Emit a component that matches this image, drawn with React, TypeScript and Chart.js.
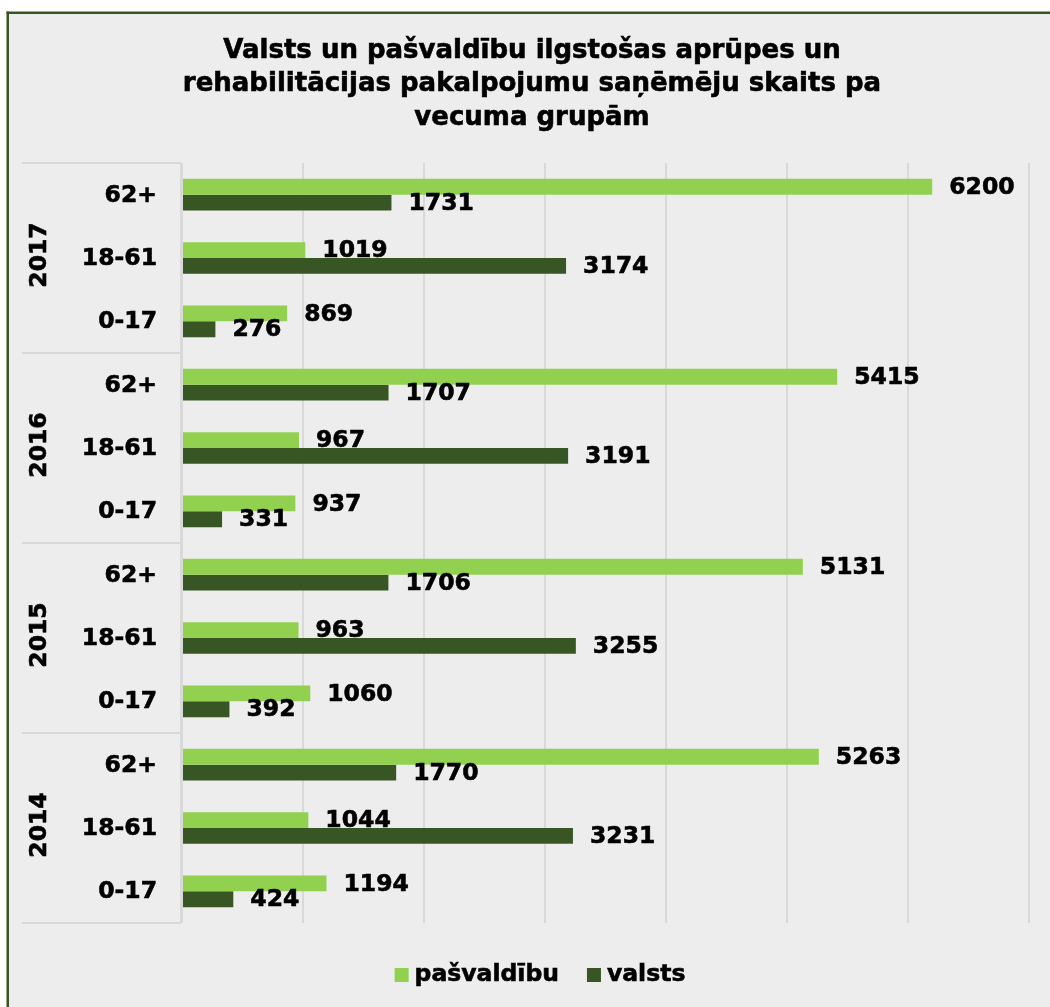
import React, { useEffect, useRef } from "react";
import { Chart, registerables } from "chart.js";

Chart.register(...registerables);

const years = ["2017", "2016", "2015", "2014"];
const ageGroups = ["62+", "18-61", "0-17"];
const pasvaldibu = [6200, 1019, 869, 5415, 967, 937, 5131, 963, 1060, 5263, 1044, 1194];
const valsts = [1731, 3174, 276, 1707, 3191, 331, 1706, 3255, 392, 1770, 3231, 424];
const seriesNames = ["pašvaldību", "valsts"];
const titleLines = [
  "Valsts un pašvaldību ilgstošas aprūpes un",
  "rehabilitācijas pakalpojumu saņēmēju skaits pa",
  "vecuma grupām",
];

const FONT = "'DejaVu Sans', Verdana, sans-serif";
const LIGHT = "#92D050";
const DARK = "#375623";
const GRID = "#D9D9D9";
const BIG = `bold 23.5px ${FONT}`;

const categories: string[] = [];
years.forEach(() => ageGroups.forEach((a) => categories.push(a)));

function boldText(ctx: CanvasRenderingContext2D, s: string, x: number, y: number) {
  ctx.fillText(s, x, y);
  ctx.strokeText(s, x, y);
}

const backgroundPlugin = {
  id: "bgBorder",
  beforeDraw(chart: any) {
    const { ctx, width, height } = chart;
    ctx.save();
    ctx.fillStyle = "#FFFFFF";
    ctx.fillRect(0, 0, width, height);
    ctx.fillStyle = "#EDEDED";
    ctx.fillRect(8, 13, width - 8, height - 13);
    ctx.fillStyle = DARK;
    ctx.fillRect(6.5, 11.5, 2.5, height - 11.5);
    ctx.fillRect(6.5, 11.5, width - 6.5, 2.5);
    ctx.restore();
  },
};

const textPlugin = {
  id: "texts",
  afterDraw(chart: any) {
    const { ctx, chartArea } = chart;
    const y = chart.scales.y;
    const n = ageGroups.length;
    ctx.save();
    // category box lines
    ctx.strokeStyle = GRID;
    ctx.lineWidth = 2;
    const left = 22;
    const right = chartArea.left - 1;
    const lines: number[] = [chartArea.top];
    for (let g = 1; g < years.length; g++) {
      const a = y.getPixelForValue(g * n - 1);
      const b = y.getPixelForValue(g * n);
      lines.push((a + b) / 2);
    }
    lines.push(chartArea.bottom);
    ctx.beginPath();
    lines.forEach((ly) => {
      ctx.moveTo(left, ly);
      ctx.lineTo(right, ly);
    });
    ctx.moveTo(right, chartArea.top);
    ctx.lineTo(right, chartArea.bottom);
    ctx.stroke();

    ctx.fillStyle = "#000";
    ctx.strokeStyle = "#000";
    ctx.lineWidth = 0.6;

    // title
    ctx.font = `bold 26px ${FONT}`;
    ctx.textAlign = "center";
    ctx.textBaseline = "middle";
    titleLines.forEach((t, i) => boldText(ctx, t, 532, 51 + i * 33.5));

    // age-group labels
    ctx.font = BIG;
    ctx.textAlign = "right";
    categories.forEach((c, i) => boldText(ctx, c, 157, y.getPixelForValue(i) + 1));

    // year labels
    ctx.textAlign = "center";
    years.forEach((yr, g) => {
      const cy = y.getPixelForValue(g * n + 1) - 3;
      ctx.save();
      ctx.translate(40, cy);
      ctx.rotate(-Math.PI / 2);
      boldText(ctx, yr, 0, 0);
      ctx.restore();
    });

    // legend
    const ly = 975;
    ctx.textAlign = "left";
    ctx.font = BIG;
    const w1 = ctx.measureText(seriesNames[0]).width;
    const w2 = ctx.measureText(seriesNames[1]).width;
    const total = 14 + 6 + w1 + 28 + 14 + 6 + w2;
    let x = 540 - total / 2;
    const colors = [LIGHT, DARK];
    [w1, w2].forEach((w, i) => {
      ctx.fillStyle = colors[i];
      ctx.fillRect(x, ly - 7, 14, 14);
      ctx.fillStyle = "#000";
      boldText(ctx, seriesNames[i], x + 20, ly);
      x += 20 + w + 28;
    });

    // value labels
    ctx.font = BIG;
    ctx.textAlign = "left";
    chart.data.datasets.forEach((ds: any, di: number) => {
      const meta = chart.getDatasetMeta(di);
      meta.data.forEach((bar: any, i: number) => {
        boldText(ctx, String(ds.data[i]), bar.x + 17, bar.y + 1);
      });
    });
    ctx.restore();
  },
};

export default function App() {
  const ref = useRef<HTMLCanvasElement>(null);
  useEffect(() => {
    if (!ref.current) return;
    const chart = new Chart(ref.current, {
      type: "bar",
      data: {
        labels: categories,
        datasets: [
          {
            label: seriesNames[0],
            data: pasvaldibu,
            backgroundColor: LIGHT,
            categoryPercentage: 0.5,
            barPercentage: 1.0,
          },
          {
            label: seriesNames[1],
            data: valsts,
            backgroundColor: DARK,
            categoryPercentage: 0.5,
            barPercentage: 1.0,
          },
        ],
      },
      options: {
        indexAxis: "y",
        animation: false,
        responsive: false,
        layout: { padding: { left: 0, right: 21, top: 163, bottom: 84 } },
        plugins: {
          title: { display: false },
          legend: { display: false },
          tooltip: { enabled: false },
        },
        scales: {
          x: {
            min: 0,
            max: 7000,
            ticks: { display: false, stepSize: 1000 },
            grid: { color: GRID, lineWidth: 2, drawTicks: false },
            border: { display: false },
            afterFit(scale: any) {
              scale.height = 0;
            },
          },
          y: {
            ticks: { display: false },
            grid: { display: false, drawTicks: false },
            border: { display: false },
            afterFit(scale: any) {
              scale.width = 182;
            },
          },
        },
      },
      plugins: [backgroundPlugin, textPlugin],
    });
    return () => chart.destroy();
  }, []);
  return (
    <div style={{ position: "fixed", left: 0, top: 0, width: 1050, height: 1007 }}>
      <canvas ref={ref} width={1050} height={1007} style={{ display: "block" }} />
    </div>
  );
}
